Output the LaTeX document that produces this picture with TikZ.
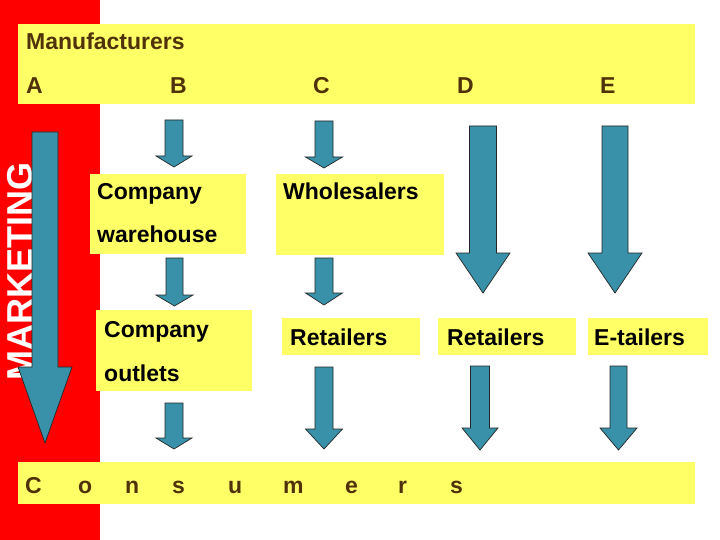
\documentclass[tikz,border=0pt]{standalone}
\usepackage{fontspec}
\setmainfont{Liberation Sans}
\definecolor{slidered}{RGB}{255,0,0}
\definecolor{slideyellow}{RGB}{255,255,102}
\definecolor{arrowteal}{RGB}{56,145,168}
\definecolor{textbrown}{RGB}{80,50,10}
% block arrow: centre x, top, neck, tip, half shaft, half head
\newcommand{\blockarrow}[6]{\draw[blk] (#1-#5,#2) -- (#1+#5,#2) -- (#1+#5,#3) -- (#1+#6,#3) -- (#1,#4) -- (#1-#6,#3) -- (#1-#5,#3) -- cycle;}

\begin{document}
\begin{tikzpicture}[x=1pt,y=-1pt,
  ybox/.style={rectangle,fill=slideyellow,inner sep=0pt,anchor=north west},
  lbl/.style={anchor=base west,inner sep=0pt,font=\fontsize{23}{23}\selectfont\bfseries},
  blk/.style={draw=black!85,line width=0.7pt,fill=arrowteal,line join=miter}]
\useasboundingbox (0,0) rectangle (720,540);
\fill[white] (0,0) rectangle (720,540);
\fill[slidered] (0,0) rectangle (100,540);
\node[anchor=base west,inner sep=0pt,rotate=90,text=white,font=\fontsize{36}{36}\selectfont\bfseries] (mkt) at (32,381) {MARKETING};
\blockarrow{45}{132}{367}{443}{13}{27}
% boxes
\node[ybox,minimum width=677pt,minimum height=80pt] (manuf) at (18,24) {};
\node[ybox,minimum width=156pt,minimum height=80pt] (whouse) at (90,174) {};
\node[ybox,minimum width=156pt,minimum height=81pt] (outlets) at (96,310) {};
\node[ybox,minimum width=168pt,minimum height=81pt] (whsale) at (276,174) {};
\node[ybox,minimum width=138pt,minimum height=37pt] (retc) at (282,318) {};
\node[ybox,minimum width=138pt,minimum height=37pt] (retd) at (438,318) {};
\node[ybox,minimum width=120pt,minimum height=37pt] (etail) at (588,318) {};
\node[ybox,minimum width=677pt,minimum height=42pt] (cons) at (18,462) {};
% texts
\node[lbl,text=textbrown] (tmanuf) at (26,50) {Manufacturers};
\node[lbl,text=textbrown] (ta) at (26,94) {A};
\node[lbl,text=textbrown] (tb) at (170,94) {B};
\node[lbl,text=textbrown] (tc) at (313,94) {C};
\node[lbl,text=textbrown] (td) at (457,94) {D};
\node[lbl,text=textbrown] (te) at (600,94) {E};
\node[lbl] (twh1) at (97,200) {Company};
\node[lbl] (twh2) at (97,243) {warehouse};
\node[lbl] (tout1) at (104,337) {Company};
\node[lbl] (tout2) at (104,381) {outlets};
\node[lbl] (twhs) at (283,200) {Wholesalers};
\node[lbl] (tretc) at (290,345) {Retailers};
\node[lbl] (tretd) at (447,345) {Retailers};
\node[lbl] (tetail) at (594,345) {E-tailers};
\node[lbl,text=textbrown] (tcons) at (25,493) {\makebox[53pt][l]{C}\makebox[47pt][l]{o}\makebox[47pt][l]{n}\makebox[56pt][l]{s}\makebox[55pt][l]{u}\makebox[62pt][l]{m}\makebox[53pt][l]{e}\makebox[52pt][l]{r}s};
% arrows
\blockarrow{174}{120}{156}{167}{9}{18}
\blockarrow{174.5}{258}{295}{306}{8.5}{18.5}
\blockarrow{174}{403}{438}{449}{9}{18}
\blockarrow{324}{121}{157}{168}{9}{18.5}
\blockarrow{324}{258}{293}{305}{9}{18.5}
\blockarrow{324}{367}{429}{449}{9}{18.5}
\blockarrow{483}{126}{253}{293}{13.5}{27}
\blockarrow{480}{366}{428}{450}{9.5}{18}
\blockarrow{615}{126}{253}{293}{13}{27}
\blockarrow{618.5}{366}{428}{450}{8.5}{18.5}
\end{tikzpicture}
\end{document}
